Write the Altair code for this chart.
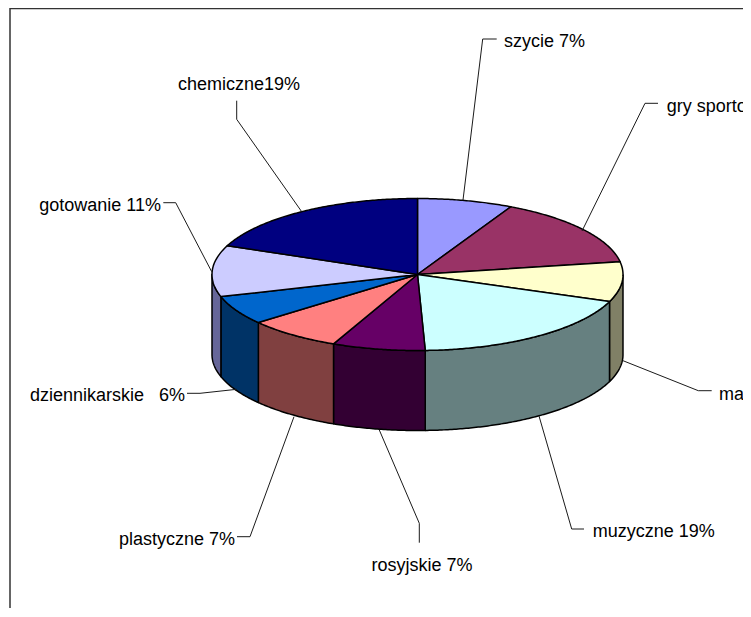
import math
import altair as alt
import pandas as pd

# ---- chart values ----
categories = ["szycie", "gry sportowe", "matematyczne", "muzyczne", "rosyjskie",
              "plastyczne", "dziennikarskie", "gotowanie", "chemiczne"]
shares = [7.5, 14.8, 8.5, 18.6, 7.3, 7.4, 6.2, 10.9, 18.8]
label_texts = ["szycie 7%", "gry sportowe 15%", "matematyczne 8%", "muzyczne 19%",
               "rosyjskie 7%", "plastyczne 7%", "dziennikarskie\u00a0\u00a0 6%",
               "gotowanie 11%", "chemiczne19%"]
top_colors = ["#9999FF", "#993366", "#FFFFCC", "#CCFFFF", "#660066",
              "#FF8080", "#0066CC", "#CCCCFF", "#000080"]
side_colors = ["#666699", "#80804D", "#808066", "#668080", "#330033",
               "#804040", "#003366", "#666699", "#000040"]

# ---- layout (page pixels) ----
CX, CY, RX, RY, DEPTH = 417.5, 274.5, 205.5, 76.0, 80.0
FONT, FSIZE = "Liberation Sans", 18
W, H = 735, 600
leaders = [
    [(463, 200), (482.7, 39), (496.7, 39)],
    [(582, 231), (645, 103.3), (658, 103.3)],
    [(623, 360.7), (698.3, 390.7), (711.7, 390.7)],
    [(539, 416), (571.7, 529), (584, 529)],
    [(379, 429.3), (419.3, 523.3), (419.3, 542.7)],
    [(294, 416.7), (250, 536.7), (237, 536.7)],
    [(236.7, 389.3), (200, 393.3), (187, 393.3)],
    [(211.7, 271.7), (175.7, 202.7), (163.3, 202.7)],
    [(301.7, 211.7), (236.7, 119.3), (236.7, 100.7)],
]
label_pos = [
    (504, 42, "left"), (666.7, 107, "left"), (719, 395, "left"), (592.7, 532, "left"),
    (422, 566, "center"), (235, 540, "right"), (185, 396, "right"),
    (161, 206, "right"), (239, 85, "center"),
]

xs = alt.X("x:Q", axis=None, scale=alt.Scale(domain=[8, 8 + W], range=[0, W], nice=False, zero=False))
ys = alt.Y("y:Q", axis=None, scale=alt.Scale(domain=[8, 8 + H], range=[0, H], nice=False, zero=False))


def ell(t, dy=0.0):
    return CX + RX * math.sin(t), CY - RY * math.cos(t) + dy


def arc(a, b):
    n = max(2, int(abs(b - a) / 0.01))
    return [a + (b - a) * i / n for i in range(n + 1)]


bounds = [0.0]
for s in shares:
    bounds.append(bounds[-1] + s / sum(shares) * 2 * math.pi)

top_rows, wall_rows = [], []
for i, cat in enumerate(categories):
    a, b = bounds[i], bounds[i + 1]
    pts = [(CX, CY)] + [ell(t) for t in arc(a, b)] + [(CX, CY)]
    for k, (x, y) in enumerate(pts):
        top_rows.append(dict(x=x, y=y, k=k, cat=cat, c=top_colors[i]))
    lo, hi = max(a, math.pi / 2), min(b, 3 * math.pi / 2)
    if lo < hi:
        ts = arc(lo, hi)
        pts = [ell(t) for t in ts] + [ell(t, DEPTH) for t in reversed(ts)]
        pts.append(pts[0])
        for k, (x, y) in enumerate(pts):
            wall_rows.append(dict(x=x, y=y, k=k, cat=cat, c=side_colors[i]))


def polys(rows, width):
    return alt.Chart(pd.DataFrame(rows)).mark_line(
        filled=True, stroke="black", strokeWidth=width, strokeJoin="round"
    ).encode(
        x=xs, y=ys, order="k:Q", detail="cat:N",
        fill=alt.Fill("c:N", scale=None, legend=None),
    )


leader_rows = [dict(x=x, y=y, k=k, cat=categories[i])
               for i, l in enumerate(leaders) for k, (x, y) in enumerate(l)]
leader_layer = alt.Chart(pd.DataFrame(leader_rows)).mark_line(
    color="#1a1a1a", strokeWidth=1
).encode(x=xs, y=ys, order="k:Q", detail="cat:N")

text_layers = []
for al in ["left", "center", "right"]:
    rows = [dict(x=p[0], y=p[1], t=label_texts[i]) for i, p in enumerate(label_pos) if p[2] == al]
    text_layers.append(
        alt.Chart(pd.DataFrame(rows)).mark_text(
            align=al, baseline="middle", font=FONT, fontSize=FSIZE, color="black"
        ).encode(x=xs, y=ys, text="t:N")
    )

border = alt.Chart(pd.DataFrame([
    dict(x=8 + W, y=8.5, k=0), dict(x=10, y=8.5, k=1), dict(x=10, y=8 + H, k=2)
])).mark_line(color="#333333", strokeWidth=1.5).encode(x=xs, y=ys, order="k:Q")

chart = alt.layer(
    polys(wall_rows, 1.5), polys(top_rows, 1.5), leader_layer, border, *text_layers
).properties(
    width=W, height=H, padding=0, autosize=alt.AutoSizeParams(type="none"),
    background="white",
).configure_view(stroke=None)

chart.save("out.html", embed_options={"renderer": "svg", "actions": False})
